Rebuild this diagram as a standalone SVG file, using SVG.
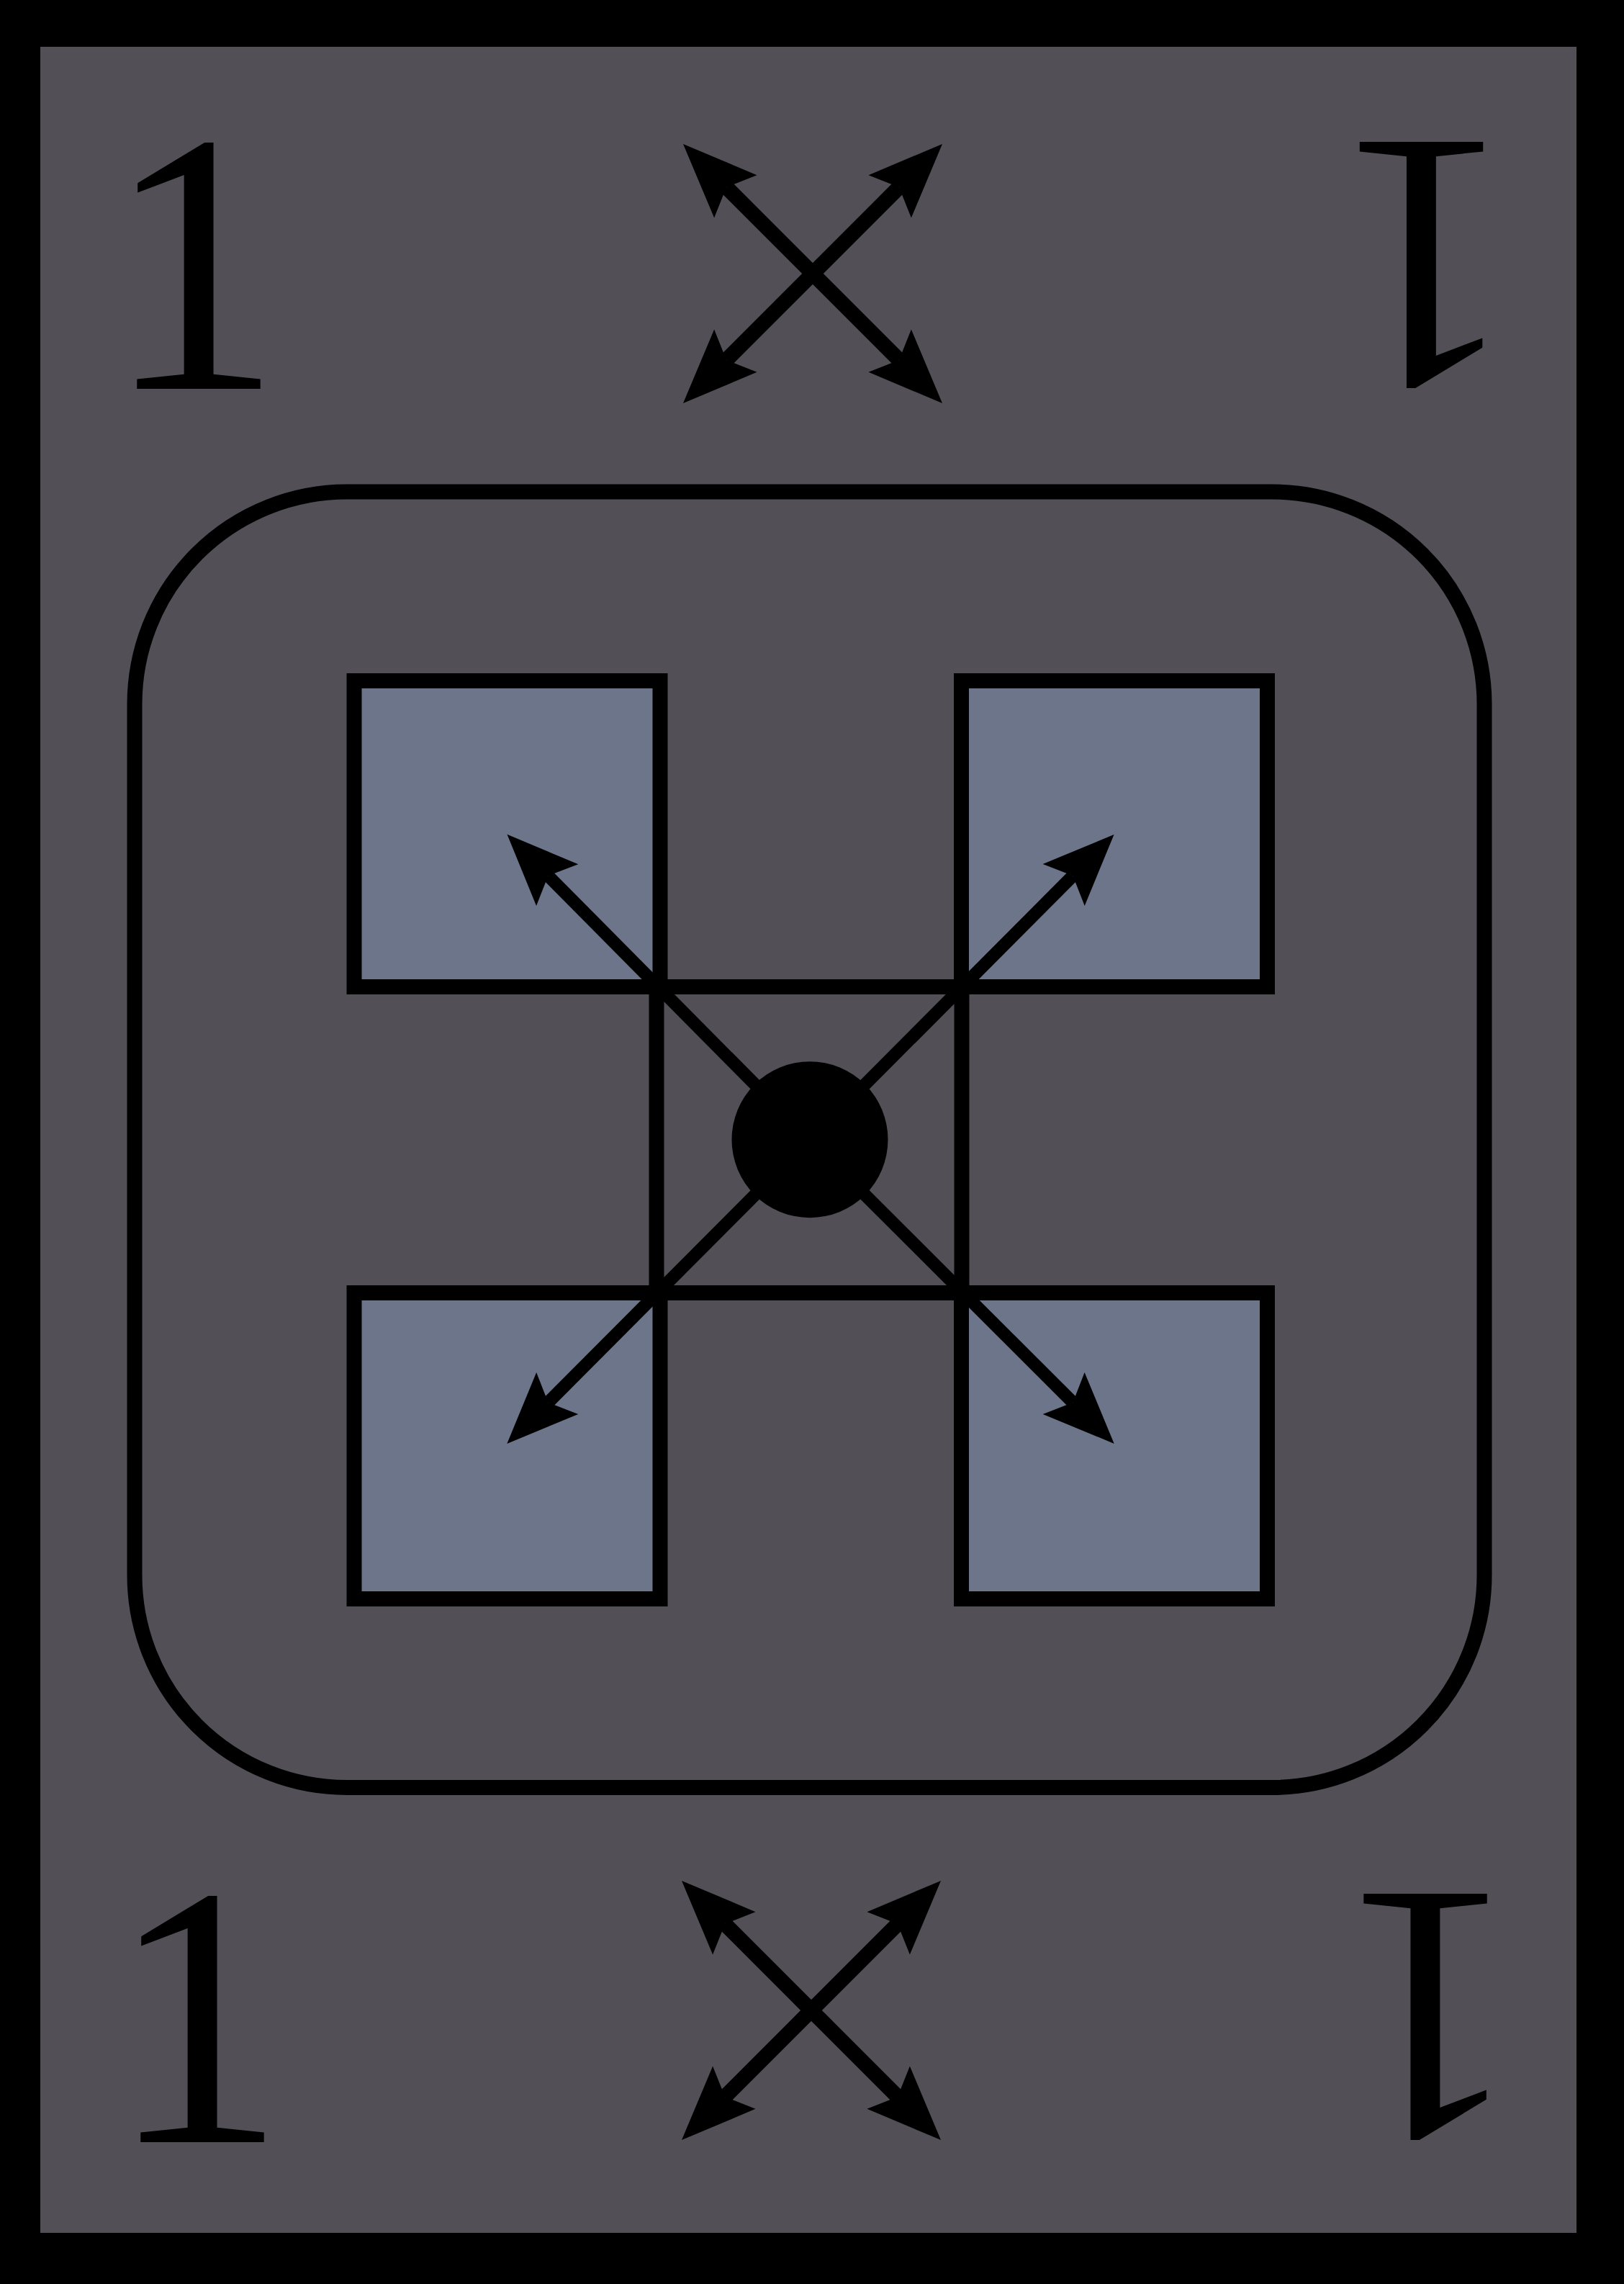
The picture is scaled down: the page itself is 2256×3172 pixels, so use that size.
<svg xmlns="http://www.w3.org/2000/svg" width="2256" height="3172" viewBox="0 0 2256 3172">
  <style>
    .card { fill: #524f57; }
    .sq { fill: #6c7589; stroke: #000; stroke-width: 21; }
    .frame { fill: none; stroke: #000; stroke-width: 21; }
    .big { stroke: #000; stroke-width: 21; fill: none; }
    .small { stroke: #000; stroke-width: 17.5; fill: none; }
    .digit { font-family: "Liberation Serif", "DejaVu Serif", serif; font-size: 518px; fill: #000; text-anchor: middle; }
  </style>
  <defs>
    <marker id="headBig" markerUnits="userSpaceOnUse" orient="auto-start-reverse" markerWidth="200" markerHeight="200" refX="0" refY="0" viewBox="-100 -100 200 200" overflow="visible">
      <path d="M85,0 L-18,-42 L0,0 L-18,42 Z" fill="#000"/>
    </marker>
    <marker id="headSmall" markerUnits="userSpaceOnUse" orient="auto" markerWidth="200" markerHeight="200" refX="0" refY="0" viewBox="-100 -100 200 200" overflow="visible">
      <path d="M81,0 L-18,-41 L0,0 L-18,41 Z" fill="#000"/>
    </marker>
  </defs>

  <rect x="0" y="0" width="2256" height="3172" fill="#000"/>
  <rect class="card" x="56" y="65" width="2134" height="3036"/>

  <g id="corner-tl"><text class="digit" transform="translate(269.2 540) scale(0.94 1)">1</text></g>
  <g id="corner-tr"><text class="digit" transform="rotate(180 1977 369) translate(1972.7 541) scale(0.94 1)">1</text></g>
  <g id="corner-bl"><text class="digit" transform="translate(274.2 2975) scale(0.94 1)">1</text></g>
  <g id="corner-br"><text class="digit" transform="rotate(180 1982.5 2802.5) translate(1978.2 2975) scale(0.94 1)">1</text></g>

  <g id="frame"><rect class="frame" x="187" y="683" width="1875" height="1799.5" rx="295" ry="295"/></g>

  <g id="square-tl"><rect class="sq" x="492" y="945.5" width="425" height="425"/></g>
  <g id="square-tr"><rect class="sq" x="1335.5" y="945.5" width="425" height="425"/></g>
  <g id="square-bl"><rect class="sq" x="492" y="1795.5" width="425" height="425"/></g>
  <g id="square-br">
    <rect x="1335.5" y="1795.5" width="425" height="420.5" fill="#6c7589"/>
    <rect class="frame" x="1335.5" y="1795.5" width="425" height="425"/>
  </g>
  <g id="center-square"><rect class="frame" x="912" y="1370.5" width="424" height="425"/></g>

  <g id="connectors">
    <line class="big" x1="1009.1" y1="260.1" x2="1248.9" y2="499.9" marker-start="url(#headBig)" marker-end="url(#headBig)"/>
    <line class="big" x1="1248.9" y1="260.1" x2="1009.1" y2="499.9" marker-start="url(#headBig)" marker-end="url(#headBig)"/>
    <line class="big" x1="1007.1" y1="2672.1" x2="1246.9" y2="2911.9" marker-start="url(#headBig)" marker-end="url(#headBig)"/>
    <line class="big" x1="1246.9" y1="2672.1" x2="1007.1" y2="2911.9" marker-start="url(#headBig)" marker-end="url(#headBig)"/>
    <line class="small" x1="1125" y1="1583" x2="761.5" y2="1216.3" marker-end="url(#headSmall)"/>
    <line class="small" x1="1125" y1="1583" x2="1490.4" y2="1216.3" marker-end="url(#headSmall)"/>
    <line class="small" x1="1125" y1="1583" x2="761.5" y2="1947.7" marker-end="url(#headSmall)"/>
    <line class="small" x1="1125" y1="1583" x2="1490.4" y2="1947.7" marker-end="url(#headSmall)"/>
  </g>

  <g id="center-dot"><circle cx="1125" cy="1582.7" r="108.5" fill="#000"/></g>
</svg>
